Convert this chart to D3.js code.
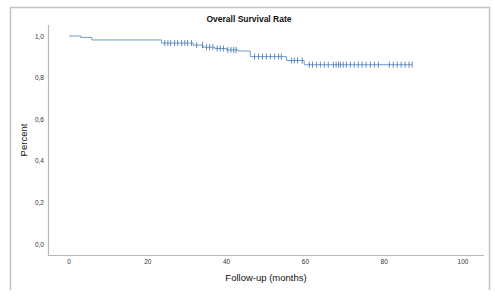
<!DOCTYPE html>
<html>
<head>
<meta charset="utf-8">
<script src="https://cdn.jsdelivr.net/npm/d3@7"></script>
<style>
  html, body { margin: 0; padding: 0; background: #fff; }
  svg { display: block; }
</style>
</head>
<body>
<svg id="chart" width="495" height="300"></svg>
<script>
// ---- data ----
const stepTimes    = [0, 3.0, 5.8, 23.5, 31.5, 34.0, 37.0, 40.0, 43.0, 46.0, 55.2, 59.7, 87.1];
const stepSurvival = [1.0, 0.993, 0.981, 0.966, 0.956, 0.946, 0.940, 0.933, 0.928, 0.901, 0.882, 0.862, 0.862];
const censorTimes  = [24.3, 25.1, 25.8, 26.8, 27.6, 28.6, 29.4, 30.1, 31.1,
                      32.4, 33.9, 34.9, 35.7, 36.5, 37.6, 38.4, 39.2, 40.3, 41.1, 41.8, 42.4,
                      47.1, 48.1, 49.1, 50.1, 51.1, 52.2, 53.2, 53.9,
                      56.5, 57.2, 58.0, 59.2,
                      61.0, 61.8, 62.8, 63.8, 64.8, 65.8, 67.1, 67.8, 68.4, 68.9, 69.6, 70.4,
                      71.4, 72.4, 73.4, 74.4, 75.4, 76.5, 77.5, 78.5,
                      81.3, 82.3, 83.3, 84.3, 85.3, 86.3, 87.1];
const xTicks = [0, 20, 40, 60, 80, 100];
const yTicks = [0, 0.2, 0.4, 0.6, 0.8, 1.0];
const titleText = "Overall Survival Rate";
const xTitle = "Follow-up (months)";
const yTitle = "Percent";

// ---- drawing ----
const svg = d3.select("#chart");
const font = "'Liberation Sans', Arial, sans-serif";
const lineColor = "#7099cf";
const tickColor = "#4f7db8";

// outer frame (top, left, right)
svg.append("path")
  .attr("d", "M10.5,290 L10.5,7.5 L489.5,7.5 L489.5,290")
  .attr("fill", "none").attr("stroke", "#c4c4c4").attr("stroke-width", 1.5);

const x = d3.scaleLinear().domain([0, 100]).range([69, 463]);
const y = d3.scaleLinear().domain([0, 1]).range([244, 36]);

// axis lines
svg.append("line").attr("x1", 48.5).attr("x2", 48.5).attr("y1", 25).attr("y2", 255.5)
  .attr("stroke", "#b8b8b8").attr("stroke-width", 1.2);
svg.append("line").attr("x1", 48).attr("x2", 484).attr("y1", 255.5).attr("y2", 255.5)
  .attr("stroke", "#b8b8b8").attr("stroke-width", 1.2);

// tick labels
const fmtY = d => d3.format(".1f")(d).replace(".", ",");
svg.append("g").selectAll("text").data(yTicks).join("text")
  .attr("x", 44).attr("y", d => y(d) + 2.5)
  .attr("text-anchor", "end")
  .attr("font-family", font).attr("font-size", 6.5).attr("fill", "#333")
  .text(fmtY);
svg.append("g").selectAll("text").data(xTicks).join("text")
  .attr("x", d => x(d)).attr("y", 264)
  .attr("text-anchor", "middle")
  .attr("font-family", font).attr("font-size", 6.5).attr("fill", "#333")
  .text(d => d);

// titles
svg.append("text").attr("x", 249).attr("y", 22).attr("text-anchor", "middle")
  .attr("font-family", font).attr("font-size", 8.5).attr("font-weight", "bold").attr("fill", "#111")
  .text(titleText);
svg.append("text").attr("x", 266).attr("y", 281).attr("text-anchor", "middle")
  .attr("font-family", font).attr("font-size", 9.5).attr("fill", "#111")
  .text(xTitle);
svg.append("text").attr("transform", "translate(27,140) rotate(-90)").attr("text-anchor", "middle")
  .attr("font-family", font).attr("font-size", 9.5).attr("fill", "#111")
  .text(yTitle);

// survival step curve
const steps = stepTimes.map((t, i) => ({t, s: stepSurvival[i]}));
const line = d3.line().x(d => x(d.t)).y(d => y(d.s)).curve(d3.curveStepAfter);
svg.append("path").datum(steps)
  .attr("d", line).attr("fill", "none")
  .attr("stroke", lineColor).attr("stroke-width", 1);

// censor marks
const survAt = t => {
  let s = stepSurvival[0];
  for (let i = 0; i < stepTimes.length; i++) if (stepTimes[i] <= t) s = stepSurvival[i];
  return s;
};
svg.append("g").selectAll("line").data(censorTimes).join("line")
  .attr("x1", d => x(d)).attr("x2", d => x(d))
  .attr("y1", d => y(survAt(d)) - 3).attr("y2", d => y(survAt(d)) + 3)
  .attr("stroke", tickColor).attr("stroke-width", 0.9);
</script>
</body>
</html>
